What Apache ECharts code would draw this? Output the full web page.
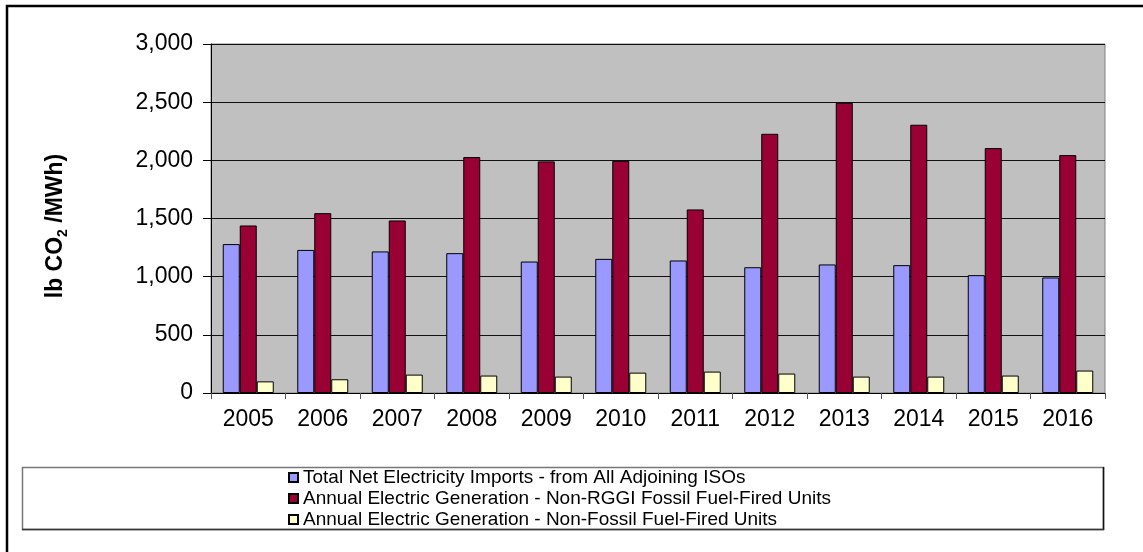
<!DOCTYPE html>
<html>
<head>
<meta charset="utf-8">
<script src="https://cdn.jsdelivr.net/npm/echarts@6/dist/echarts.min.js"></script>
<style>
html,body{margin:0;padding:0;background:#fff;}
#chart{width:1143px;height:552px;}
</style>
</head>
<body>
<div id="chart"></div>
<script>
const years = ['2005','2006','2007','2008','2009','2010','2011','2012','2013','2014','2015','2016'];
const importsVals = [1280, 1230, 1217, 1202, 1130, 1153, 1139, 1081, 1105, 1099, 1013, 993];
const nonRggiFossil = [1440, 1546, 1483, 2028, 1991, 1996, 1578, 2228, 2495, 2306, 2105, 2045];
const nonFossil = [100, 118, 158, 150, 141, 175, 184, 167, 141, 141, 150, 193];
const seriesNames = [
  'Total Net Electricity Imports - from All Adjoining ISOs',
  'Annual Electric Generation - Non-RGGI Fossil Fuel-Fired Units',
  'Annual Electric Generation - Non-Fossil Fuel-Fired Units'
];
const yTicks = [0, 500, 1000, 1500, 2000, 2500, 3000];

const chart = echarts.init(document.getElementById('chart'));
const font = 'Liberation Sans, Arial, sans-serif';
function barSeries(name, data, color) {
  return {
    name: name, type: 'bar', data: data, barWidth: 17, barGap: '0%',
    itemStyle: { color: color, borderColor: '#000', borderWidth: 1 },
    animation: false
  };
}
chart.setOption({
  animation: false,
  backgroundColor: '#fff',
  textStyle: { fontFamily: font },
  grid: {
    left: 211, right: 38, top: 44, bottom: 159,
    show: true, backgroundColor: '#C0C0C0', borderColor: '#808080', borderWidth: 1
  },
  xAxis: {
    type: 'category', data: years,
    axisLine: { lineStyle: { color: '#000', width: 1 } },
    axisTick: { show: true, length: 6, lineStyle: { color: '#555' } },
    axisLabel: { color: '#000', fontSize: 23, margin: 15, fontFamily: font }
  },
  yAxis: {
    type: 'value', min: yTicks[0], max: yTicks[yTicks.length - 1], interval: 500,
    axisLine: { show: true, lineStyle: { color: '#000', width: 1 } },
    axisTick: { show: true, length: 8, lineStyle: { color: '#000' } },
    axisLabel: {
      color: '#000', fontSize: 23, margin: 18, fontFamily: font,
      formatter: v => v.toLocaleString('en-US')
    },
    splitLine: { show: true, lineStyle: { color: '#111', width: 1 } }
  },
  legend: {
    orient: 'vertical', left: 288, top: 467, itemGap: 0, padding: 0,
    itemWidth: 9, itemHeight: 9, icon: 'rect',
    textStyle: { fontSize: 19, color: '#000', lineHeight: 21, fontFamily: font },
    data: seriesNames
  },
  series: [
    barSeries(seriesNames[0], importsVals, '#9999FF'),
    barSeries(seriesNames[1], nonRggiFossil, '#990033'),
    barSeries(seriesNames[2], nonFossil, '#FFFFCC')
  ],
  graphic: [
    { type: 'rect', z: 100, silent: true,
      shape: { x: 7, y: 6, width: 1160, height: 570 },
      style: { fill: 'none', stroke: '#000', lineWidth: 2.5 } },
    { type: 'rect', z: 1, silent: true,
      shape: { x: 22.5, y: 467.5, width: 1081, height: 62 },
      style: { fill: 'none', stroke: '#777', lineWidth: 1.5 } },
    { type: 'line', z: 2, silent: true,
      shape: { x1: 1103.5, y1: 467, x2: 1103.5, y2: 530 },
      style: { stroke: '#111', lineWidth: 1.5 } },
    { type: 'line', z: 2, silent: true,
      shape: { x1: 22, y1: 529.5, x2: 1104, y2: 529.5 },
      style: { stroke: '#333', lineWidth: 1.5 } },
    { type: 'text', z: 10, silent: true,
      x: 56, y: 226, rotation: Math.PI / 2,
      style: {
        text: '{a|lb CO}{s|2}{a| /MWh)}',
        align: 'center', verticalAlign: 'middle',
        rich: {
          a: { fontSize: 23, fontWeight: 'bold', fontFamily: font, fill: '#000', lineHeight: 28 },
          s: { fontSize: 14, fontWeight: 'bold', fontFamily: font, fill: '#000', lineHeight: 15, verticalAlign: 'bottom' }
        }
      } }
  ]
});
</script>
</body>
</html>
